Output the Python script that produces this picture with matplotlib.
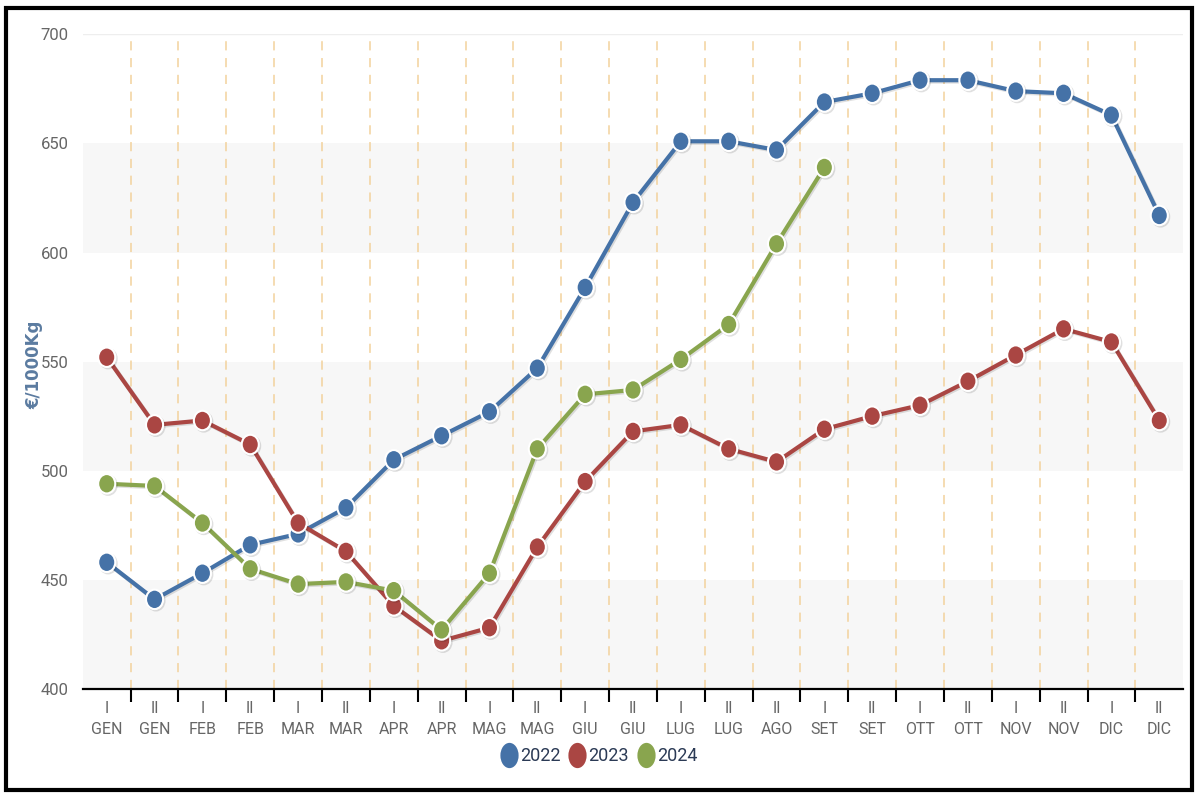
import matplotlib
matplotlib.use("Agg")
import matplotlib.pyplot as plt
from matplotlib.markers import MarkerStyle
from matplotlib.transforms import Affine2D
from matplotlib.patches import Rectangle
import matplotlib.patheffects as pe

# Data
halves = ["I", "II", "I", "II", "I", "II", "I", "II", "I", "II", "I", "II",
          "I", "II", "II", "I", "II", "I", "II", "I", "II", "I", "II"]
months = ["GEN", "GEN", "FEB", "FEB", "MAR", "MAR", "APR", "APR", "MAG", "MAG",
          "GIU", "GIU", "LUG", "LUG", "AGO", "SET", "SET", "OTT", "OTT",
          "NOV", "NOV", "DIC", "DIC"]
years = ["2022", "2023", "2024"]
v2022 = [458, 441, 453, 466, 471, 483, 505, 516, 527, 547, 584, 623, 651, 651,
         647, 669, 673, 679, 679, 674, 673, 663, 617]
v2023 = [552, 521, 523, 512, 476, 463, 438, 422, 428, 465, 495, 518, 521, 510,
         504, 519, 525, 530, 541, 553, 565, 559, 523]
v2024 = [494, 493, 476, 455, 448, 449, 445, 427, 453, 510, 535, 537, 551, 567,
         604, 639]
colors = ["#4572A7", "#AA4643", "#89A54E"]

font = ["Roboto", "DejaVu Sans"]

fig = plt.figure(figsize=(12, 8), dpi=100)
ax = fig.add_axes([0.069, 0.139, 0.917, 0.818])

n = len(months)
ax.set_xlim(-0.5, n - 0.5)
ax.set_ylim(400, 700)

# alternate bands
for lo in [400, 500, 600]:
    ax.axhspan(lo, lo + 50, color="#f7f7f7", zorder=0, lw=0)
ax.axhline(700, color="#eeeeee", lw=1, zorder=0)

# dashed separators between categories
for i in range(n - 1):
    ax.axvline(i + 0.5, color="#f3d29c", lw=1.1, ls=(0, (6, 5)), zorder=1)

mk = MarkerStyle("o", transform=Affine2D().scale(0.88, 1.0))
shadow = [pe.SimpleLineShadow(offset=(1, -1), shadow_color="black", alpha=0.12), pe.Normal()]
lines = []
for vals, c, lab in zip([v2022, v2023, v2024], colors, years):
    ln, = ax.plot(range(len(vals)), vals, color=c, lw=3, marker=mk, ms=14,
                  markeredgecolor="white", markeredgewidth=1.5, label=lab, zorder=3,
                  path_effects=shadow)
    lines.append(ln)

# axes styling
for s in ["top", "right", "left"]:
    ax.spines[s].set_visible(False)
ax.spines["bottom"].set_color("black")
ax.spines["bottom"].set_linewidth(1.6)

ax.set_yticks([400, 450, 500, 550, 600, 650, 700])
ax.tick_params(axis="y", length=0, pad=10, labelcolor="#666666", labelsize=12)
for t in ax.get_yticklabels():
    t.set_family(font)

ax.set_xticks([i + 0.5 for i in range(n - 1)], minor=True)
ax.set_xticks(range(n))
ax.set_xticklabels([h + "\n" + m for h, m in zip(halves, months)],
                   fontsize=11.5, color="#666666", family=font, linespacing=1.5)
ax.tick_params(axis="x", which="major", length=0, pad=9)
ax.tick_params(axis="x", which="minor", length=9, width=1.5, color="black")

ax.set_ylabel("€/1000Kg", fontsize=12, fontweight="bold", color="#5b7ba0",
              family=["DejaVu Sans"])
ax.yaxis.set_label_coords(-0.036, 0.495)

leg = fig.legend(handles=lines, loc="center", bbox_to_anchor=(0.5, 0.055), ncol=3,
                 frameon=False, handlelength=0.7, handletextpad=0.25,
                 columnspacing=0.6, markerscale=1.3, prop={"family": font, "size": 13})
for h in leg.legend_handles:
    h.set_linestyle("none")
    h.set_markeredgewidth(0)
    h.set_path_effects([])
    h.set_marker(MarkerStyle("o", transform=Affine2D().scale(0.72, 1.0)))
for t in leg.get_texts():
    t.set_color("#2b3a55")

# outer frame
fig.patches.append(Rectangle((0.005, 0.012), 0.988, 0.978, transform=fig.transFigure,
                             fill=False, edgecolor="black", lw=3))

fig.savefig("out.png", dpi=100)
